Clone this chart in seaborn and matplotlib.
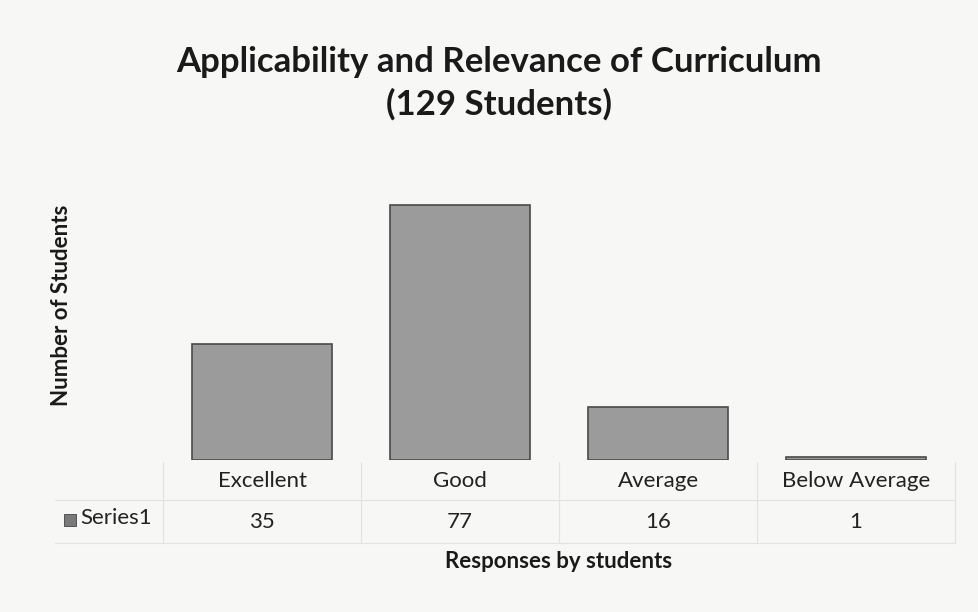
import matplotlib.pyplot as plt
import seaborn as sns
import pandas as pd
from matplotlib.patches import Rectangle
from matplotlib.transforms import blended_transform_factory

sns.set_theme(style="white")
plt.rcParams['font.family'] = ['Lato', 'DejaVu Sans']

# Data
categories = ["Excellent", "Good", "Average", "Below Average"]
values = [35, 77, 16, 1]
series_name = "Series1"

df = pd.DataFrame({"Response": categories, "Students": values})

bg = "#f7f7f6"
fig = plt.figure(figsize=(9.79, 6.12), dpi=100, facecolor=bg)
ax = fig.add_axes([163 / 979, 152 / 612, 792 / 979, 270 / 612])
ax.set_facecolor(bg)

sns.barplot(data=df, x="Response", y="Students", color="#9b9b9b",
            edgecolor="#4a4a4a", linewidth=1.2, width=0.71, saturation=1, ax=ax)
ax.set_ylim(0, 81.5)
ax.set_xlim(-0.5, 3.5)
for s in ax.spines.values():
    s.set_visible(False)
ax.set_yticks([])
ax.set_xticks([])
ax.set_xlabel("")
ax.set_ylabel("")

# Data table under the plot
trans = blended_transform_factory(ax.transData, fig.transFigure)
for i, (cat, val) in enumerate(zip(categories, values)):
    ax.text(i, 1 - 481 / 612, cat, transform=trans, ha="center", va="center",
            fontsize=16, color="#222222")
    ax.text(i, 1 - 522 / 612, str(val), transform=trans, ha="center", va="center",
            fontsize=16, color="#222222")

# table grid lines (faint)
line_kw = dict(color="#e2e2e2", linewidth=0.8)
for yy in [500 / 612, 543 / 612]:
    fig.add_artist(plt.Line2D([55 / 979, 955 / 979], [1 - yy, 1 - yy], **line_kw))
for i in range(5):
    ax.plot([i - 0.5, i - 0.5], [1 - 462 / 612, 1 - 543 / 612], transform=trans,
            clip_on=False, **line_kw)

# series legend key
fig.add_artist(Rectangle((64 / 979, 1 - 526 / 612), 12 / 979, 12 / 612,
                         transform=fig.transFigure, facecolor="#7a7a7a",
                         edgecolor="#444444", linewidth=0.6))
fig.text(80 / 979, 1 - 518 / 612, series_name, ha="left", va="center",
         fontsize=16, color="#222222")

# Titles
fig.text(499 / 979, 1 - 62 / 612, "Applicability and Relevance of Curriculum",
         ha="center", va="center", fontsize=25, fontweight="bold", color="#1a1a1a")
fig.text(499 / 979, 1 - 104 / 612, "(129 Students)",
         ha="center", va="center", fontsize=25, fontweight="bold", color="#1a1a1a")
fig.text(559 / 979, 1 - 561 / 612, "Responses by students",
         ha="center", va="center", fontsize=16, fontweight="bold", color="#1a1a1a")
fig.text(62 / 979, 1 - 305 / 612, "Number of Students", rotation=90,
         ha="center", va="center", fontsize=16, fontweight="bold", color="#1a1a1a")

fig.savefig("out.png", dpi=100, facecolor=bg)
